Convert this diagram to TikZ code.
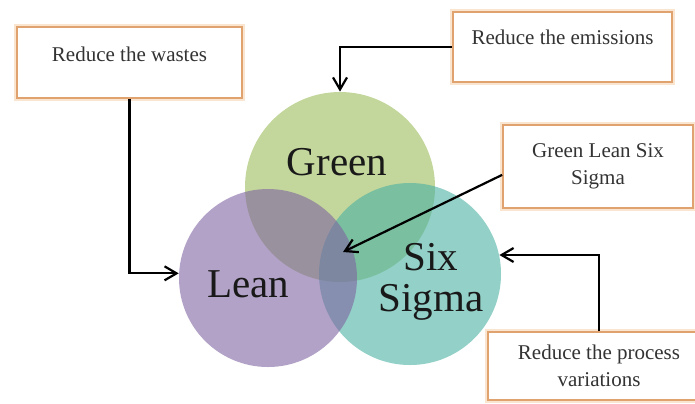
\documentclass[tikz,border=0pt]{standalone}
\usepackage{fontspec}
\setmainfont{Liberation Serif}
\usetikzlibrary{arrows.meta}

\definecolor{greenfill}{RGB}{155,187,88}
\definecolor{leanfill}{RGB}{128,100,162}
\definecolor{sigmafill}{RGB}{73,177,163}
\definecolor{boxline}{RGB}{224,163,112}
\definecolor{boxglow}{RGB}{250,230,208}

\begin{document}
\begin{tikzpicture}[x=0.5pt,y=-0.5pt,
  every node/.style={font=\fontsize{10.5}{13.5}\selectfont},
  venn/.style={circle, fill opacity=0.6, inner sep=0pt},
  vennlabel/.style={font=\fontsize{20.5}{20.5}\selectfont, align=center, text=black!90},
  notebox/.style={draw=boxline, line width=0.9pt, fill=white,
    preaction={draw=boxglow, line width=2.6pt}, align=center, text=black!80, inner sep=2pt},
  pointer/.style={-{Straight Barb[length=6pt,width=7pt]}, line width=1.1pt}]
  \useasboundingbox (0,0) rectangle (695,403);
  \clip (0,0) rectangle (695,403);
  % the three sets
  \node[venn, fill=greenfill, minimum size=95pt] (green) at (340,187) {};
  \node[venn, fill=sigmafill, minimum size=91pt] (sixsigma) at (410,274) {};
  \node[venn, fill=leanfill, minimum size=89pt] (lean) at (268,278) {};
  \node[vennlabel] (greentxt) at (337,162) {Green};
  \node[vennlabel] (leantxt) at (248,284) {Lean};
  \node[vennlabel] (sixsigmatxt) at (431,282) {Six\\Sigma};
  \coordinate (core) at (343,252);
  % notes
  \node[notebox, minimum width=112.5pt, minimum height=35.5pt, text height=7.5pt, text depth=9pt] (wastes) at (129.5,62.5) {Reduce the wastes};
  \node[notebox, minimum width=109.5pt, minimum height=35pt, text height=7.5pt, text depth=10.5pt] (emissions) at (562.5,47) {Reduce the emissions};
  \node[notebox, minimum width=95pt, minimum height=41.5pt] (glss) at (598,166.5) {Green Lean Six\\Sigma};
  \node[notebox, minimum width=111pt, minimum height=34pt] (variations) at (599,366) {Reduce the process\\variations};
  % arrows
  \draw[pointer] (wastes.south) |- (lean.177);
  \draw[pointer] (emissions.west) -| (green.north);
  \draw[pointer] (glss.185) -- (core);
  \draw[pointer] (variations.north) |- (sixsigma.12);
\end{tikzpicture}
\end{document}
